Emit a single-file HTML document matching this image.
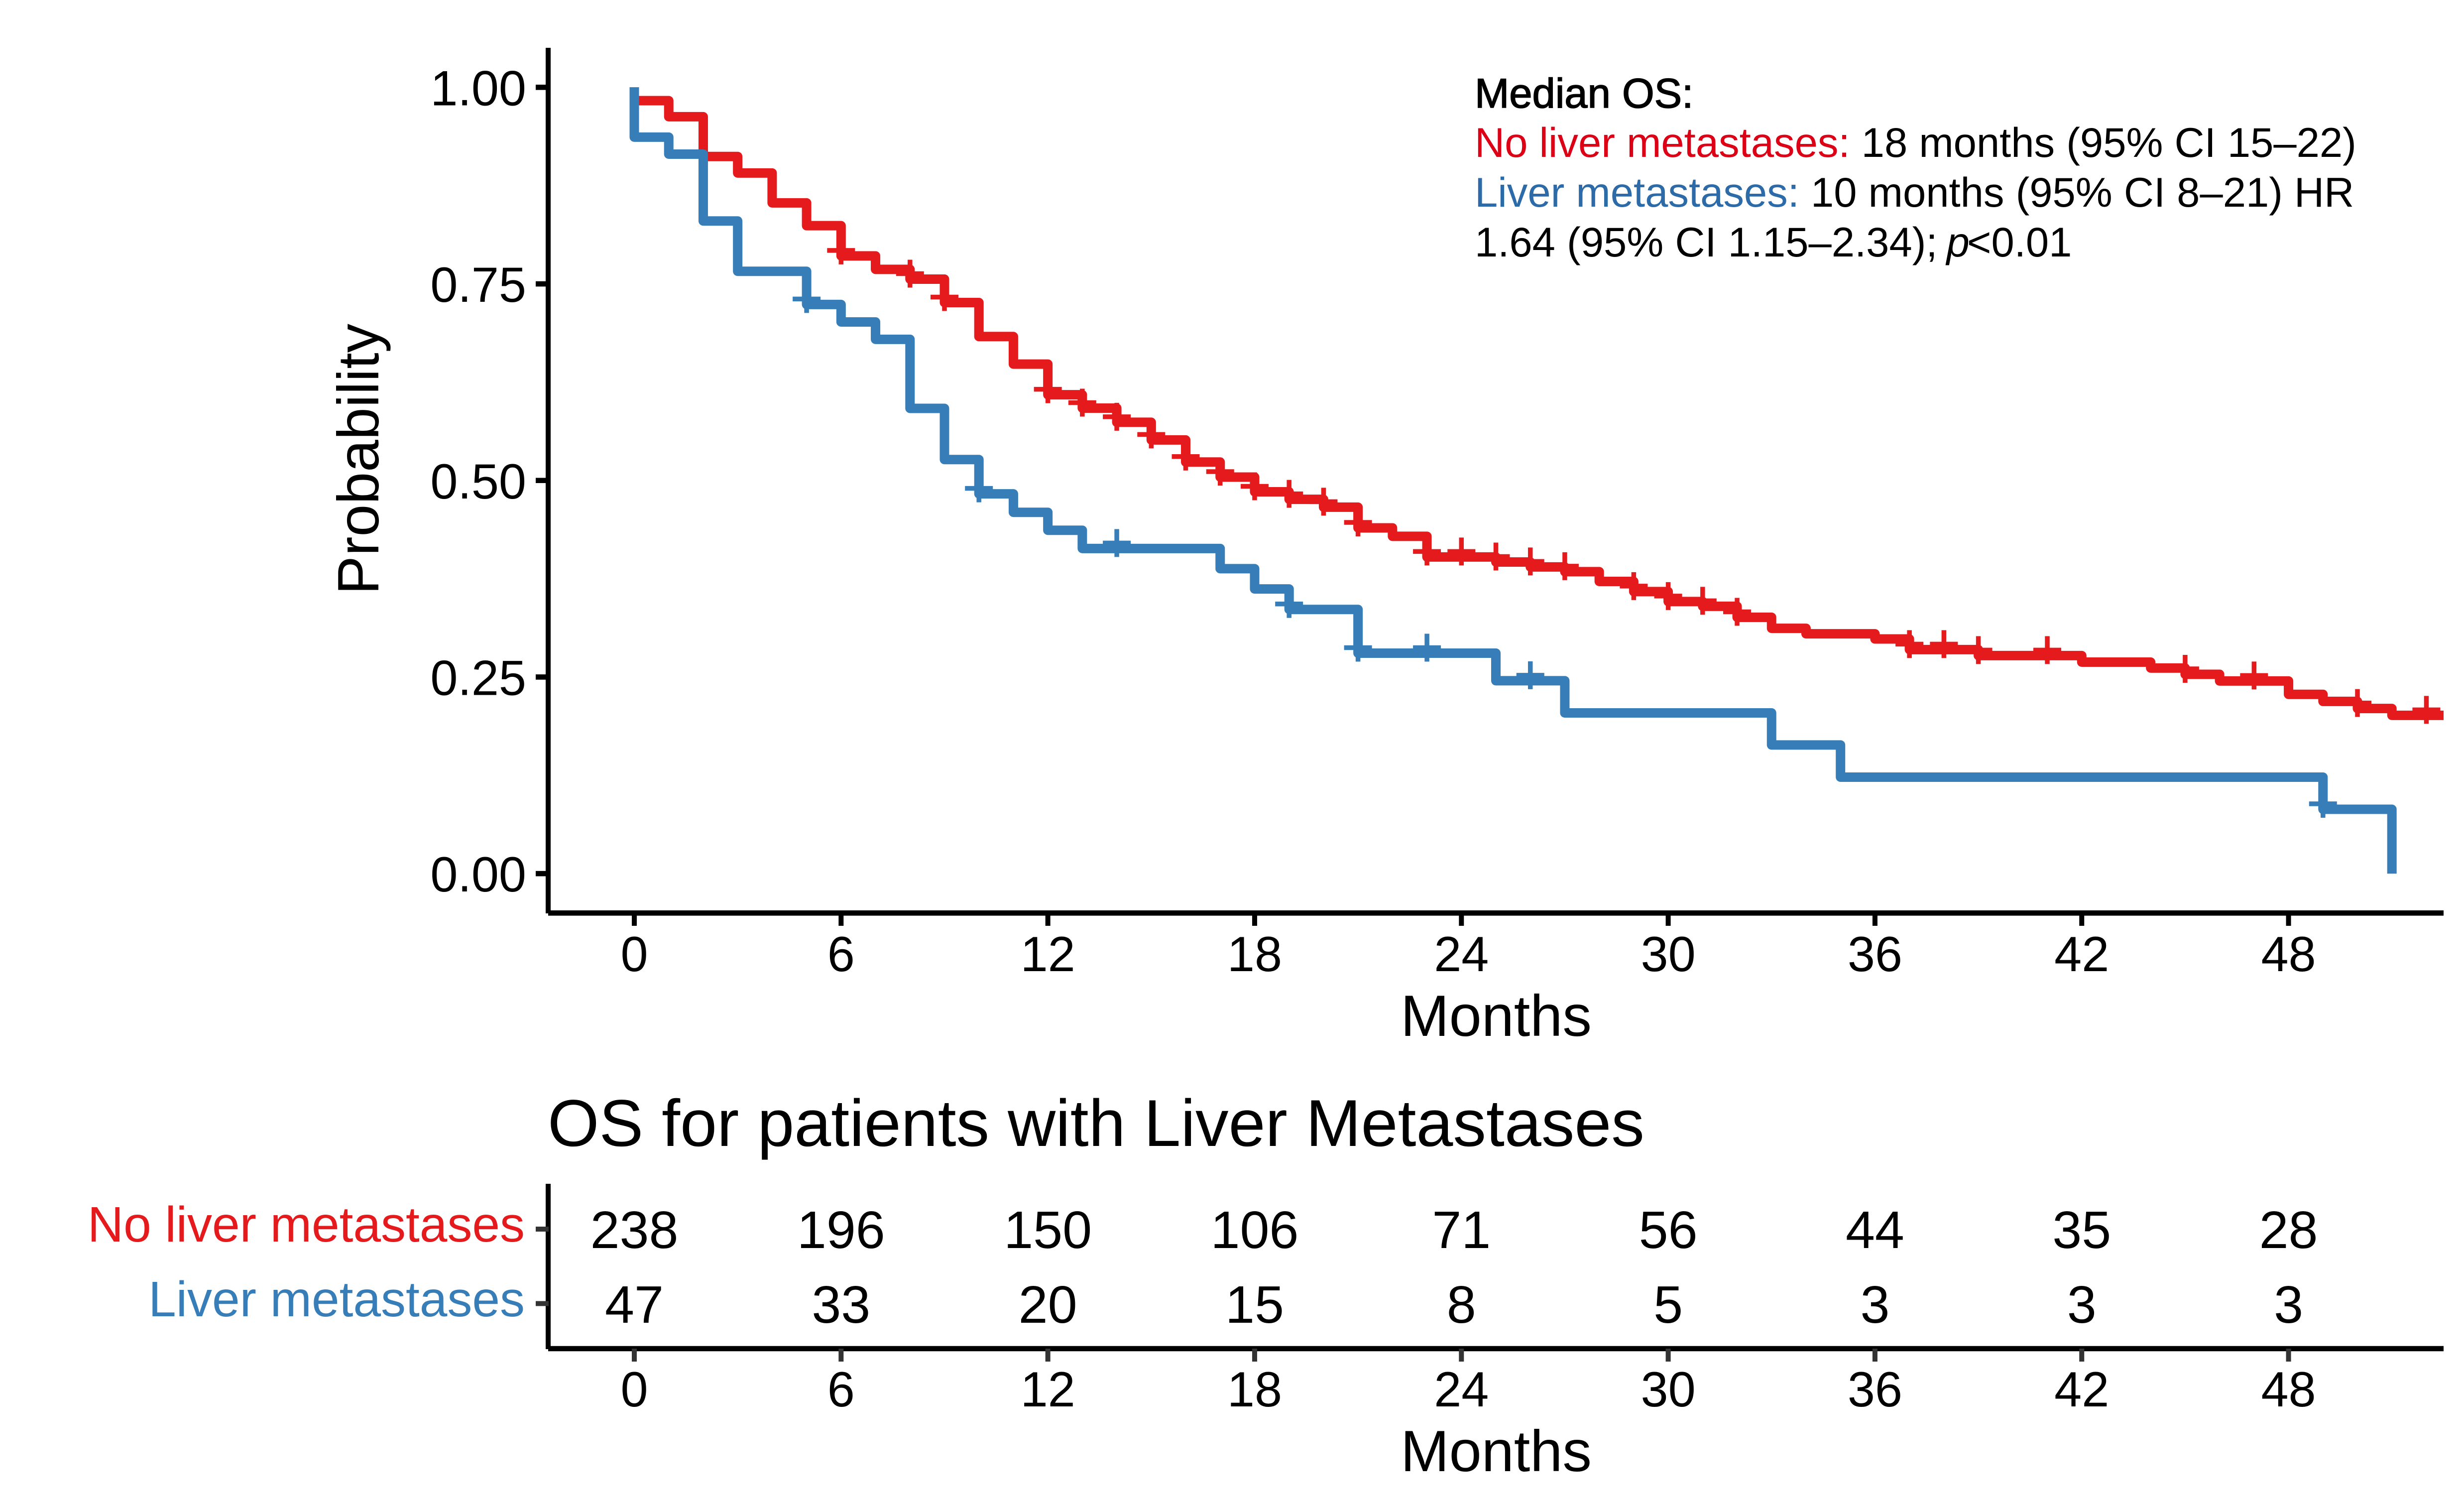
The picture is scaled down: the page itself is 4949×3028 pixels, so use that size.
<!DOCTYPE html>
<html lang="en">
<head>
<meta charset="utf-8">
<title>OS for patients with Liver Metastases</title>
<style>
html,body{margin:0;padding:0;background:#fff;}
svg{display:block;font-family:"Liberation Sans",Arial,sans-serif;}
</style>
</head>
<body>
<svg id="chart" xmlns="http://www.w3.org/2000/svg" width="4949" height="3028" viewBox="0 0 4949 3028">
  <rect x="0" y="0" width="4949" height="3028" fill="#ffffff"/>
  <g id="km-plot"></g>
  <g id="risk-table"></g>
  <text transform="translate(760,922) rotate(-90)" text-anchor="middle" font-size="116.5">Probability</text>
  <text x="3005" y="2080" text-anchor="middle" font-size="117">Months</text>
  <g font-size="83.2">
    <text x="2962" y="216" stroke="#000" stroke-width="1.6">Median OS:</text>
    <text x="2962" y="315"><tspan fill="#dc0016">No liver metastases:</tspan> 18 months (95% CI 15–22)</text>
    <text x="2962" y="415"><tspan fill="#2c6aa8">Liver metastases:</tspan> 10 months (95% CI 8–21) HR</text>
    <text x="2962" y="515">1.64 (95% CI 1.15–2.34); <tspan font-style="italic" dx="-5">p</tspan><tspan dx="-5">&lt;0.01</tspan></text>
  </g>
  <text x="1100" y="2301" font-size="133">OS for patients with Liver Metastases</text>
  <text x="3005" y="2954" text-anchor="middle" font-size="117">Months</text>
</svg>
<script>
var monthTicks = [0, 6, 12, 18, 24, 30, 36, 42, 48];
var probabilityTicks = [0, 0.25, 0.5, 0.75, 1];
var probabilityLabels = ["0.00", "0.25", "0.50", "0.75", "1.00"];

var redTimes = [0, 1, 2, 3, 4, 5, 6, 7, 8, 9, 10, 11, 12, 13, 14, 15, 16, 17, 18, 19, 20, 21, 22, 23, 25, 26, 27, 28, 29, 30, 31, 32, 33, 34, 36, 37, 39, 42, 44, 45, 46, 48, 49, 50, 51];
var redSurvival = [0.983, 0.9626, 0.912, 0.891, 0.853, 0.824, 0.7856, 0.7685, 0.756, 0.7263, 0.683, 0.648, 0.609, 0.592, 0.574, 0.5515, 0.5234, 0.5043, 0.4856, 0.476, 0.466, 0.4397, 0.429, 0.4027, 0.3963, 0.39, 0.384, 0.3716, 0.3587, 0.346, 0.34, 0.326, 0.312, 0.305, 0.2984, 0.2849, 0.2773, 0.269, 0.2615, 0.2535, 0.245, 0.228, 0.219, 0.21, 0.2013];
var redCensored = [6, 8, 9, 12, 13, 14, 15, 16, 17, 18, 19, 20, 21, 23, 24, 25, 26, 27, 29, 30, 31, 32, 37, 38, 39, 41, 45, 47, 50, 52];

var blueTimes = [0, 1, 2, 3, 5, 6, 7, 8, 9, 10, 11, 12, 13, 17, 18, 19, 21, 25, 27, 33, 35, 49, 51];
var blueSurvival = [0.9366, 0.915, 0.83, 0.766, 0.7238, 0.7016, 0.6795, 0.5917, 0.5266, 0.483, 0.4595, 0.4367, 0.4135, 0.3878, 0.362, 0.336, 0.2804, 0.2453, 0.2044, 0.1636, 0.1227, 0.0818, 0];
var blueCensored = [5, 10, 14, 19, 21, 23, 26, 49];

var redAtRisk = [238, 196, 150, 106, 71, 56, 44, 35, 28];
var blueAtRisk = [47, 33, 20, 15, 8, 5, 3, 3, 3];

var RED = "#E41A1C", BLUE = "#377EB8";
var NS = "http://www.w3.org/2000/svg";
var AXIS_RIGHT = 4908;
var plot = document.getElementById("km-plot");
var table = document.getElementById("risk-table");

function xScale(month) { return 1274 + month * 69.22; }
function yScale(prob) { return 1754.2 - prob * 1578.9; }

function make(parent, tag, attrs, text) {
  var el = document.createElementNS(NS, tag);
  for (var k in attrs) { el.setAttribute(k, attrs[k]); }
  if (text !== undefined) { el.textContent = text; }
  parent.appendChild(el);
  return el;
}

function survivalAt(times, values, month) {
  var s = 1;
  for (var i = 0; i < times.length; i++) {
    if (times[i] <= month) { s = values[i]; }
  }
  return s;
}

function stepPath(times, values, endMonth) {
  var d = "M" + xScale(0) + " " + yScale(1);
  for (var i = 0; i < times.length; i++) {
    d += " H" + xScale(times[i]) + " V" + yScale(values[i]);
  }
  if (endMonth !== null) { d += " H" + Math.min(xScale(endMonth), AXIS_RIGHT); }
  return d;
}

function drawCurve(times, values, endMonth, color) {
  var el = make(plot, "path", {
    d: stepPath(times, values, endMonth), fill: "none", stroke: color,
    "stroke-width": 19, "stroke-linejoin": "round", "stroke-linecap": "butt"
  });
  return el;
}

function drawCensor(times, values, month, color) {
  var cx = xScale(month);
  var cy = yScale(survivalAt(times, values, month)) - 11;
  var el = make(plot, "path", {
    d: "M" + (cx - 28) + " " + cy + " H" + (cx + 28) + " M" + cx + " " + (cy - 28) + " V" + (cy + 28),
    fill: "none", stroke: color, "stroke-width": 9.5
  });
  return el;
}

/* Kaplan-Meier curves */
var redCurve = drawCurve(redTimes, redSurvival, 52.6, RED);


var blueCurve = drawCurve(blueTimes, blueSurvival, null, BLUE);



redCensored.forEach(function (m) {
  var mark = drawCensor(redTimes, redSurvival, m, RED);
  
  
});
blueCensored.forEach(function (m) {
  var mark = drawCensor(blueTimes, blueSurvival, m, BLUE);
  
  
});

/* Top plot axes */
var yAxis = make(plot, "line", { x1: 1101, y1: 96, x2: 1101, y2: 1834, stroke: "#000", "stroke-width": 10 });


var xAxis = make(plot, "line", { x1: 1101, y1: 1833.3, x2: AXIS_RIGHT, y2: 1833.3, stroke: "#000", "stroke-width": 10.6 });



probabilityTicks.forEach(function (p, i) {
  var y = yScale(p);
  var tick = make(plot, "line", { x1: 1076, y1: y, x2: 1101, y2: y, stroke: "#000", "stroke-width": 10.6 });
  
  
  var label = make(plot, "text", { x: 1057, y: y + 36, "text-anchor": "end", "font-size": 99 }, probabilityLabels[i]);
  
  
});

monthTicks.forEach(function (m) {
  var x = xScale(m);
  var tick = make(plot, "line", { x1: x, y1: 1833, x2: x, y2: 1859, stroke: "#000", "stroke-width": 10 });
  
  
  var label = make(plot, "text", { x: x, y: 1950, "text-anchor": "middle", "font-size": 99 }, String(m));
  
  
});

/* Risk table */
var tableYAxis = make(table, "line", { x1: 1101, y1: 2377, x2: 1101, y2: 2709, stroke: "#000", "stroke-width": 10 });


var tableXAxis = make(table, "line", { x1: 1101, y1: 2708, x2: AXIS_RIGHT, y2: 2708, stroke: "#000", "stroke-width": 10.6 });



var rowLabels = ["No liver metastases", "Liver metastases"];
var rowColors = [RED, BLUE];
var rowTickY = [2468, 2617.5];
var rowValues = [redAtRisk, blueAtRisk];
var rowBaseline = [2506, 2656];
var rowLabelBaseline = [2493, 2643];

rowLabels.forEach(function (name, r) {
  var tick = make(table, "line", { x1: 1076, y1: rowTickY[r], x2: 1102, y2: rowTickY[r], stroke: "#333333", "stroke-width": 10 });
  
  
  var label = make(table, "text", { x: 1054, y: rowLabelBaseline[r], "text-anchor": "end", "font-size": 100 }, name);
  label.setAttribute('fill', rowColors[r]);
  
  
  rowValues[r].forEach(function (v, i) {
    var cell = make(table, "text", { x: xScale(monthTicks[i]), y: rowBaseline[r], "text-anchor": "middle", "font-size": 106 }, String(v));
    
    
  });
});

monthTicks.forEach(function (m) {
  var x = xScale(m);
  var tick = make(table, "line", { x1: x, y1: 2708, x2: x, y2: 2734, stroke: "#333333", "stroke-width": 10 });
  
  
  var label = make(table, "text", { x: x, y: 2824, "text-anchor": "middle", "font-size": 99 }, String(m));
  
  
});
</script>
</body>
</html>
